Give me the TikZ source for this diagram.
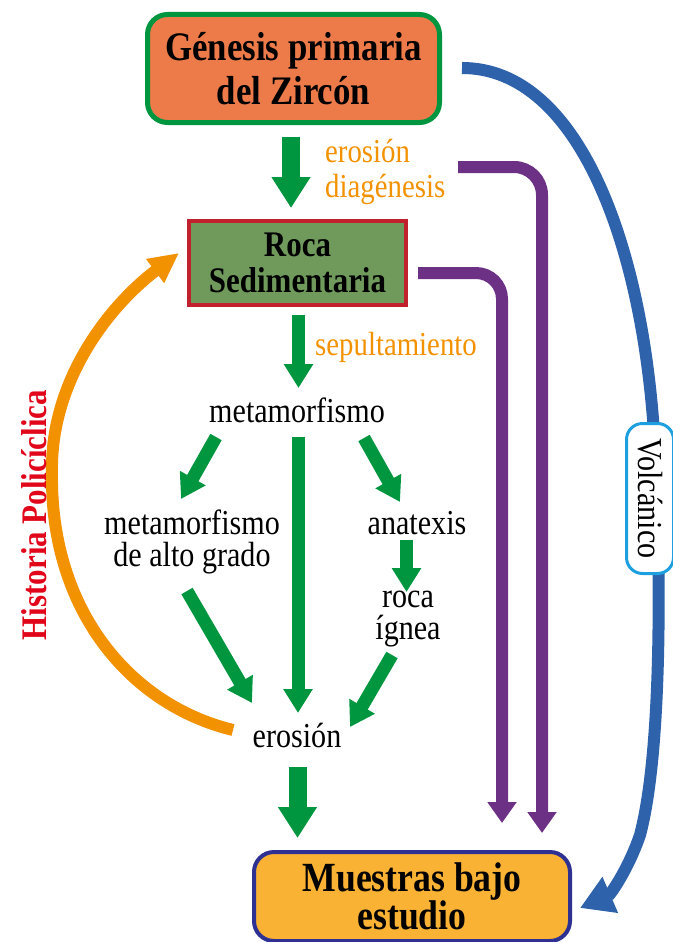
\documentclass[tikz,border=0pt]{standalone}
\usepackage{fontspec}
\setmainfont[FakeStretch=0.86]{Liberation Serif}
\usetikzlibrary{arrows.meta,calc}
\definecolor{ggreen}{RGB}{0,150,64}
\definecolor{otxt}{RGB}{243,146,0}
\definecolor{topfill}{RGB}{237,123,74}
\definecolor{rocafill}{RGB}{111,154,91}
\definecolor{rocaline}{RGB}{193,33,45}
\definecolor{mufill}{RGB}{249,178,51}
\definecolor{muline}{RGB}{46,49,146}
\definecolor{purp}{RGB}{108,48,133}
\definecolor{blu}{RGB}{46,98,171}
\definecolor{volc}{RGB}{30,159,224}
\definecolor{hred}{RGB}{225,6,26}
\begin{document}
\begin{tikzpicture}[x=1pt,y=-1pt,
  topbox/.style={draw=ggreen,line width=5pt,fill=topfill,rounded corners=20pt,minimum width=292pt,minimum height=108pt,align=center,inner sep=0pt,font=\fontsize{40.5}{44}\selectfont\bfseries},
  rocabox/.style={draw=rocaline,line width=4pt,fill=rocafill,minimum width=217pt,minimum height=84pt,align=center,inner sep=0pt,font=\fontsize{36}{36}\selectfont\bfseries},
  mubox/.style={draw=muline,line width=4pt,fill=mufill,rounded corners=20pt,minimum width=316pt,minimum height=89pt,align=center,inner sep=0pt,font=\fontsize{41.5}{37}\selectfont\bfseries},
  lbl/.style={align=center,inner sep=0pt,font=\fontsize{35}{32}\selectfont},
  olbl/.style={align=left,inner sep=0pt,text=otxt,font=\fontsize{33.5}{35}\selectfont},
  bigarrow/.style={draw=ggreen,line width=18pt,-{Triangle[width=37pt,length=31pt]}},
  medarrow/.style={draw=ggreen,line width=13pt,-{Triangle[width=28pt,length=24pt]}},
  parrow/.style={draw=purp,line width=12pt,-{Triangle[width=28pt,length=21pt]}},
  barrow/.style={draw=blu,line width=12pt,-{Triangle[width=37pt,length=33pt]}},
  oarrow/.style={draw=otxt,line width=12pt,-{Triangle[width=28pt,length=30pt]}}]
\useasboundingbox (0,0) rectangle (672,942);

\node[topbox] (gen) at (293.5,68.5) {Génesis primaria\\del Zircón};
\node[rocabox] (roca) at (297.5,263) {Roca\\Sedimentaria};
\node[mubox] (mu) at (412,896.5) {Muestras bajo\\estudio};
\node[lbl] (meta) at (297,410) {metamorfismo};
\node[lbl] (alto) at (192,542) {metamorfismo\\de alto grado};
\node[lbl] (anat) at (417,523) {anatexis};
\node[lbl] (ign) at (408,619) {roca\\ígnea};
\node[lbl] (ero) at (297,735) {erosión};
\node[olbl,anchor=west] (ed) at (325,172) {erosión\\diagénesis};
\node[olbl,anchor=west] (sep) at (315,347) {sepultamiento};

% blue volcanic path
\draw[barrow] ([shift={(168.5,-0.5)}]gen.center) .. controls (580,68) and (645,250) .. (655,450)
  .. controls (662,600) and (660,760) .. (640,835)
  .. controls (628,870) and (610,895) .. ([shift={(168,11.5)}]mu.center);

% green arrows
\draw[bigarrow] ([shift={(-2.5,68.5)}]gen.center) -- ([shift={(-6.5,-55)}]roca.center);
\draw[medarrow] ([shift={(1,52)}]roca.center) -- ([shift={(1.5,-22)}]meta.center);
\draw[medarrow] ([shift={(-81,27)}]meta.center) -- ([shift={(-11,-43)}]alto.center);
\draw[medarrow] ([shift={(1,27)}]meta.center) -- ([shift={(1,-22)}]ero.center);
\draw[medarrow] ([shift={(67,28)}]meta.center) -- ([shift={(-17,-21)}]anat.center);
\draw[medarrow] ([shift={(-10.5,17)}]anat.center) -- ([shift={(-1.5,-27)}]ign.center);
\draw[medarrow] ([shift={(-16,36)}]ign.center) -- ([shift={(53,-8)}]ero.center);
\draw[medarrow] ([shift={(-5,49)}]alto.center) -- ([shift={(-45,-32)}]ero.center);
\draw[bigarrow] ([shift={(0.5,32)}]ero.center) -- ([shift={(-114.5,-58.5)}]mu.center);

% purple arrows
\draw[parrow,rounded corners=28pt] ([shift={(164.5,98.5)}]gen.center) -| ([shift={(130,-63.5)}]mu.center);
\draw[parrow,rounded corners=26pt] ([shift={(120.5,10)}]roca.center) -| ([shift={(90,-73.5)}]mu.center);

% orange cycle arrow
\draw[oarrow] ([shift={(-64,-5)}]ero.center) .. controls (130,705) and (50,610) .. (52,473)
  .. controls (50,380) and (110,305) .. ([shift={(-118.5,-10)}]roca.center);
\node[rotate=90,inner sep=0pt,text=hred,font=\fontsize{36}{36}\selectfont\bfseries] (hist) at (34,515) {Historia Policíclica};

\node[rotate=-90,draw=volc,line width=3pt,fill=white,rounded corners=16pt,minimum width=150pt,minimum height=47pt,inner sep=0pt,font=\fontsize{35}{35}\selectfont] (volc) at (650,498.5) {Volcánico};
\end{tikzpicture}
\end{document}
